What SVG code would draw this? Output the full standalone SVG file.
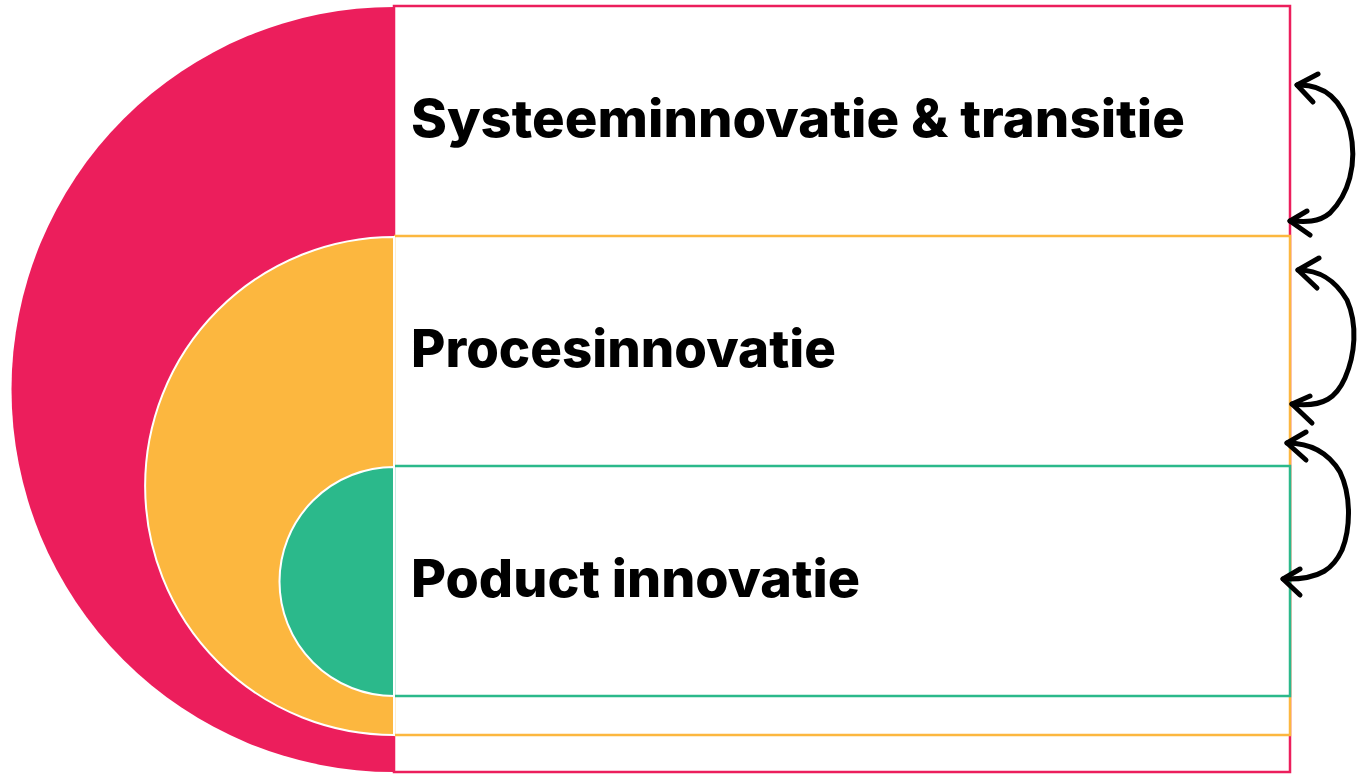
<svg xmlns="http://www.w3.org/2000/svg" width="1358" height="774" viewBox="0 0 1358 774">
<style>
.lbl{font-family:Inter,"Open Sans","Liberation Sans",sans-serif;font-weight:800;font-size:52px;fill:#000}
.arr{fill:none;stroke:#000;stroke-width:5;stroke-linecap:round;stroke-linejoin:round}
.box{fill:#fff;stroke-width:2.5}
</style>
<rect width="1358" height="774" fill="#fff"/>
<g id="node-system">
<rect class="box" x="394" y="6" width="896" height="766" stroke="#EC1E5C"/>
</g>
<g id="node-proces">
<rect class="box" x="394" y="236" width="896" height="499" stroke="#FCB73F"/>
</g>
<g id="node-product">
<rect class="box" x="394" y="466" width="896" height="230" stroke="#2BB98B"/>
</g>
<g id="arcs">
<path d="M394,7 A382.5,382.5 0 0 0 394,772 Z" fill="#EC1E5C"/>
<path d="M394,237 A249,249 0 0 0 394,735 Z" fill="#FCB73F" stroke="#fff" stroke-width="2"/>
<path d="M394,467 A114.5,114.5 0 0 0 394,696 Z" fill="#2BB98B" stroke="#fff" stroke-width="2"/>
</g>
<g id="labels">
<text class="lbl" x="411" y="137" textLength="774" lengthAdjust="spacingAndGlyphs">Systeeminnovatie &amp; transitie</text>
<text class="lbl" x="411" y="367" textLength="425" lengthAdjust="spacingAndGlyphs">Procesinnovatie</text>
<text class="lbl" x="411" y="597" textLength="449" lengthAdjust="spacingAndGlyphs">Poduct innovatie</text>
</g>
<g id="connectors">
<path class="arr" d="M1297,85 C1325,84 1342,100 1350,130 C1358,165 1348,195 1330,213 C1318,223 1305,222 1290,221"/>
<path class="arr" d="M1318,74 L1297,85 L1313,102"/>
<path class="arr" d="M1307,211 L1290,221 L1310,235"/>
<path class="arr" d="M1298,270 C1320,270 1335,280 1347,300 C1358,325 1355,355 1345,378 C1337,396 1325,408 1292,404"/>
<path class="arr" d="M1319,258 L1298,270 L1317,288"/>
<path class="arr" d="M1310,396 L1292,404 L1312,423"/>
<path class="arr" d="M1287,443 C1310,443 1328,452 1340,472 C1352,497 1350,530 1342,550 C1334,567 1322,580 1283,579"/>
<path class="arr" d="M1306,432 L1287,443 L1306,460"/>
<path class="arr" d="M1300,569 L1283,579 L1300,595"/>
</g>
</svg>
